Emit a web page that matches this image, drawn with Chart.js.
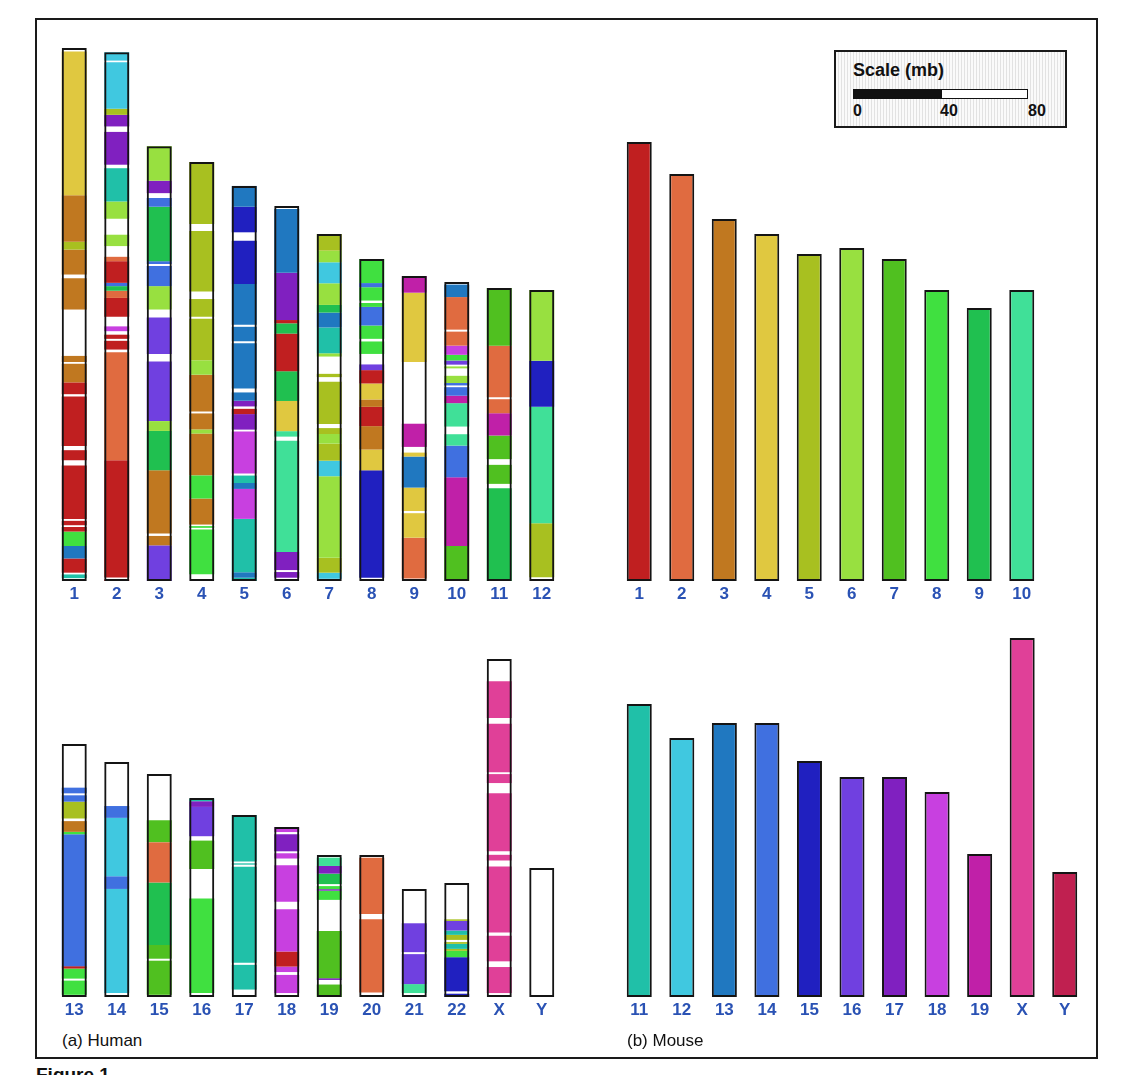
<!DOCTYPE html>
<html>
<head>
<meta charset="utf-8">
<script src="https://cdn.jsdelivr.net/npm/chart.js@4.4.1/dist/chart.umd.min.js"></script>
<style>
  html, body { margin: 0; padding: 0; background: #fff; }
  body { width: 1134px; height: 1075px; overflow: hidden; position: relative; font-family: "Liberation Sans", Arial, sans-serif; }
  .frame { position: absolute; left: 35px; top: 18px; width: 1063px; height: 1041px; border: 2px solid #1a1a1a; box-sizing: border-box; }
  .panel { position: absolute; }
  .caption { position: absolute; font-size: 17px; color: #111; }
  .scalebox { position: absolute; left: 834px; top: 50px; width: 233px; height: 78px; border: 2px solid #1a1a1a; box-sizing: border-box;
    background: repeating-linear-gradient(90deg, #fafafa 0px, #fafafa 2px, #e2e2e2 2px, #e2e2e2 3px); }
  .scaletitle { position: absolute; left: 853px; top: 60px; font-size: 18px; font-weight: bold; color: #111; }
  .scalebar { position: absolute; left: 853px; top: 89px; width: 175px; height: 10px; border: 1.5px solid #111; box-sizing: border-box; background: #fff; }
  .scalebar div { position: absolute; left: 0; top: 0; width: 88px; height: 100%; background: #111; }
  .scalelab { position: absolute; top: 102px; font-size: 16px; font-weight: bold; color: #111; }
  .fig { position: absolute; left: 36px; top: 1064px; font-size: 19px; font-weight: bold; color: #111; }
</style>
</head>
<body>
<div class="frame"></div>

<div class="panel" style="left:53px;top:40px;width:510px;height:571px"><canvas id="humanTop"></canvas></div>
<div class="panel" style="left:618px;top:40px;width:425px;height:571px"><canvas id="mouseTop"></canvas></div>
<div class="panel" style="left:53px;top:610px;width:510px;height:417px"><canvas id="humanBottom"></canvas></div>
<div class="panel" style="left:618px;top:610px;width:468px;height:417px"><canvas id="mouseBottom"></canvas></div>

<div class="scalebox"></div>
<div class="scaletitle">Scale (mb)</div>
<div class="scalebar"><div></div></div>
<div class="scalelab" style="left:853px">0</div>
<div class="scalelab" style="left:940px">40</div>
<div class="scalelab" style="left:1028px">80</div>

<div class="caption" style="left:62px;top:1031px">(a) Human</div>
<div class="caption" style="left:627px;top:1031px">(b) Mouse</div>
<div class="fig">Figure 1.</div>

<script>
// scale: 80 mb = 175 px
const PX_PER_MB = 175 / 80

const mouseColors = {
    1: '#c01f20', 2: '#e06b40', 3: '#c07820', 4: '#e0c840', 5: '#a8c020',
    6: '#98e040', 7: '#50c020', 8: '#40e040', 9: '#20c050', 10: '#40e098',
    11: '#20c0a8', 12: '#40c8e0', 13: '#2078c0', 14: '#4070e0', 15: '#2020c0',
    16: '#7040e0', 17: '#8020c0', 18: '#c840e0', 19: '#c020a8', X: '#e04098', Y: '#c02050'
}

// human chromosomes (mb)
const humanLabelsTop = ['1', '2', '3', '4', '5', '6', '7', '8', '9', '10', '11', '12']
const humanLengthsTop = [243.7, 241.7, 198.8, 191.5, 180.6, 171.4, 158.6, 147.2, 139.4, 136.7, 133.9, 133.0]
const humanLabelsBottom = ['13', '14', '15', '16', '17', '18', '19', '20', '21', '22', 'X', 'Y']
const humanLengthsBottom = [115.7, 107.4, 101.9, 91.0, 83.2, 77.7, 64.9, 64.9, 49.4, 52.1, 154.5, 59.0]

// mouse chromosomes (mb)
const mouseLabelsTop = ['1', '2', '3', '4', '5', '6', '7', '8', '9', '10']
const mouseLengthsTop = [200.7, 186.1, 165.5, 158.6, 149.5, 152.2, 147.2, 133.0, 124.8, 133.0]
const mouseLabelsBottom = ['11', '12', '13', '14', '15', '16', '17', '18', '19', 'X', 'Y']
const mouseLengthsBottom = [134.0, 118.4, 125.3, 125.3, 107.9, 100.6, 100.6, 93.7, 65.4, 164.1, 57.1]

// conserved segments on each human chromosome: [mouse chr, start mb, end mb], from the top
const segH1 = [[4, 1.6, 67.4], [3, 67.4, 88.6], [5, 88.6, 92.2], [3, 92.2, 103.6], [3, 105.3, 119.6], [3, 140.8, 143.6],
    [3, 144.4, 152.9], [1, 152.9, 158.3], [1, 159.3, 182.0], [1, 183.9, 188.5], [1, 190.9, 215.4], [1, 216.2, 218.2],
    [1, 219.0, 221.1], [8, 221.1, 227.7], [13, 227.7, 233.4], [1, 233.4, 239.9], [11, 240.7, 242.4]]
const segH2 = [[12, 0, 3.8], [12, 4.6, 25.8], [5, 25.8, 28.6], [17, 28.6, 33.9], [17, 36.4, 51.4], [11, 53.0, 68.2],
    [6, 68.2, 76.1], [6, 83.4, 88.6], [2, 93.5, 95.5], [1, 95.5, 105.4], [14, 105.4, 106.9], [9, 106.9, 109.0],
    [2, 109.0, 112.3], [1, 112.3, 120.9], [18, 125.3, 127.5], [1, 129.1, 131.0], [1, 131.9, 135.9], [2, 137.1, 186.5],
    [1, 186.5, 240.1], [1, 240.9, 241.7]]
const segH3 = [[6, 0, 15.8], [17, 15.8, 21.5], [14, 23.7, 27.7], [9, 27.7, 52.6], [14, 52.6, 53.9], [14, 54.8, 64.0],
    [6, 64.0, 74.7], [16, 78.3, 95.0], [16, 98.4, 125.7], [6, 125.7, 130.2], [9, 130.2, 148.2], [3, 148.2, 177.1],
    [3, 178.2, 182.5], [16, 182.5, 198.8]]
const segH4 = [[5, 0, 28.3], [5, 31.5, 59.2], [5, 62.6, 70.7], [5, 71.6, 90.6], [6, 90.6, 97.2], [3, 97.2, 114.0],
    [3, 114.9, 122.2], [6, 122.2, 124.1], [3, 124.1, 143.2], [8, 143.2, 153.8], [3, 153.8, 165.7], [8, 166.4, 167.2],
    [8, 168.0, 188.4]]
const segH5 = [[13, 0, 9.5], [15, 9.5, 21.2], [15, 25.1, 44.8], [13, 44.8, 63.5], [13, 64.4, 71.0], [13, 71.9, 92.6],
    [13, 94.4, 98.2], [17, 98.2, 100.8], [1, 101.9, 104.3], [17, 104.3, 111.4], [18, 112.3, 131.5], [11, 132.4, 135.8],
    [13, 135.8, 138.5], [18, 138.5, 152.2], [11, 152.2, 176.6], [13, 176.6, 179.1], [11, 179.1, 180.6]]
const segH6 = [[13, 1.3, 30.5], [17, 30.5, 52.1], [1, 52.1, 53.6], [9, 53.6, 58.3], [1, 58.3, 75.5], [9, 75.5, 89.1],
    [4, 89.1, 102.9], [10, 102.9, 105.4], [10, 107.3, 158.1], [17, 158.1, 166.4], [17, 167.3, 169.9]]
const segH7 = [[5, 0, 7.6], [6, 7.6, 12.9], [12, 12.9, 22.5], [6, 22.5, 32.4], [9, 32.4, 35.9], [13, 35.9, 42.7],
    [11, 42.7, 54.5], [6, 54.5, 56.0], [5, 63.9, 65.4], [5, 67.5, 86.8], [5, 88.7, 91.4], [6, 91.4, 95.8],
    [5, 95.8, 103.6], [12, 103.6, 110.7], [6, 110.7, 148.0], [5, 148.0, 154.8], [12, 154.8, 157.6]]
const segH8 = [[8, 0, 11.0], [14, 11.0, 12.9], [8, 12.9, 19.0], [8, 20.1, 21.9], [14, 21.9, 30.4], [8, 30.4, 36.5],
    [8, 37.7, 43.4], [16, 48.2, 50.8], [1, 50.8, 56.9], [4, 56.9, 64.2], [3, 64.2, 67.6], [1, 67.6, 76.4],
    [3, 76.4, 87.1], [4, 87.1, 96.6], [15, 96.6, 145.7]]
const segH9 = [[19, 0, 7.6], [4, 7.6, 39.3], [19, 67.5, 78.1], [4, 80.7, 82.5], [13, 82.5, 96.7], [4, 96.7, 107.4],
    [4, 108.4, 119.6], [2, 119.6, 138.3]]
const segH10 = [[13, 1.2, 6.9], [2, 6.9, 21.8], [2, 22.7, 29.1], [18, 29.1, 33.3], [8, 33.3, 35.9], [16, 35.9, 37.8],
    [6, 38.6, 39.5], [6, 42.9, 46.2], [14, 46.2, 47.3], [14, 48.1, 52.0], [19, 52.0, 55.4], [10, 55.4, 66.1],
    [10, 69.6, 74.8], [14, 74.8, 89.3], [19, 89.3, 120.7], [7, 120.7, 136.7]]
const segH11 = [[7, 0, 26.4], [2, 26.4, 49.9], [2, 50.8, 57.2], [19, 57.2, 67.4], [7, 67.4, 78.2], [7, 80.8, 89.5],
    [9, 91.5, 133.9]]
const segH12 = [[6, 0, 32.3], [15, 32.3, 53.3], [10, 53.3, 106.6], [5, 106.6, 131.3]]
const segH13 = [[14, 20.0, 22.6], [14, 23.5, 26.4], [5, 26.4, 34.1], [3, 35.3, 40.2], [8, 40.2, 41.3], [14, 41.3, 101.6],
    [1, 101.6, 102.7], [8, 102.7, 107.3], [8, 108.2, 114.7]]
const segH14 = [[14, 20.1, 25.5], [12, 25.5, 52.2], [14, 52.2, 58.0], [12, 58.0, 105.6]]
const segH15 = [[7, 21.1, 31.1], [2, 31.1, 49.6], [9, 49.6, 78.1], [7, 78.1, 84.4], [7, 85.3, 100.9]]
const segH16 = [[11, 0.3, 1.5], [17, 1.5, 4.1], [16, 4.1, 17.5], [7, 19.5, 32.5], [8, 46.0, 89.2]]
const segH17 = [[11, 0, 21.2], [11, 22.1, 22.7], [11, 23.6, 67.5], [11, 68.5, 79.8]]
const segH18 = [[18, 0, 2.3], [17, 3.3, 11.1], [18, 12.0, 14.4], [18, 17.5, 34.2], [18, 37.6, 56.9], [1, 56.9, 63.8],
    [18, 63.8, 66.3], [18, 67.6, 75.9]]
const segH19 = [[10, 1.2, 5.0], [17, 5.0, 8.5], [9, 8.5, 13.3], [8, 14.2, 15.6], [17, 15.6, 16.3], [8, 16.3, 20.5],
    [7, 34.7, 56.3], [17, 56.3, 57.1], [7, 59.2, 64.9]]
const segH20 = [[2, 1.2, 26.9], [2, 29.3, 62.8]]
const segH21 = [[16, 15.7, 28.9], [16, 29.8, 43.5], [10, 43.5, 47.6]]
const segH22 = [[5, 16.6, 17.3], [16, 17.3, 21.7], [11, 21.7, 23.7], [5, 23.7, 26.0], [5, 27.0, 27.8], [11, 27.8, 30.1],
    [5, 30.1, 31.0], [8, 31.0, 33.9], [15, 33.9, 49.5], [15, 50.6, 52.1]]
const segHX = [['X', 10.2, 27.0], ['X', 29.6, 51.7], ['X', 52.6, 56.7], ['X', 61.3, 87.9], ['X', 89.5, 92.1],
    ['X', 94.8, 125.0], ['X', 126.5, 138.2], ['X', 140.8, 152.7]]
const segHY = []

const segsTop = [segH1, segH2, segH3, segH4, segH5, segH6, segH7, segH8, segH9, segH10, segH11, segH12]
const segsBottom = [segH13, segH14, segH15, segH16, segH17, segH18, segH19, segH20, segH21, segH22, segHX, segHY]

const CLEAR = 'rgba(0,0,0,0)'

// chromosomes are drawn bottom aligned, so a segment measured from the top
// becomes a floating bar measured from the baseline
function humanDatasets(lengths, segLists) {
    var sets = [{
        data: lengths.map(L => [0, L]),
        backgroundColor: CLEAR,
        borderColor: '#141414',
        borderWidth: 2,
        borderSkipped: false,
        order: 0
    }]
    var maxSegs = Math.max.apply(null, segLists.map(s => s.length))
    for (var k = 0; k < maxSegs; k++) {
        sets.push({
            data: segLists.map((s, i) => s[k] ? [lengths[i] - s[k][2], lengths[i] - s[k][1]] : null),
            backgroundColor: segLists.map(s => s[k] ? mouseColors[s[k][0]] : CLEAR),
            borderWidth: 0,
            order: 1
        })
    }
    return sets
}

function mouseDatasets(labels, lengths) {
    return [{
        data: lengths,
        backgroundColor: labels.map(l => mouseColors[l]),
        borderColor: '#141414',
        borderWidth: 2,
        borderSkipped: false
    }]
}

function makePanel(id, labels, datasets, areaHeight) {
    return new Chart(document.getElementById(id), {
        type: 'bar',
        data: { labels: labels, datasets: datasets },
        options: {
            responsive: true,
            maintainAspectRatio: false,
            animation: false,
            layout: { padding: 0 },
            datasets: {
                bar: { grouped: false, barPercentage: 25 / 42.5, categoryPercentage: 1 }
            },
            plugins: { legend: { display: false }, tooltip: { enabled: false } },
            scales: {
                x: {
                    grid: { display: false, drawTicks: false },
                    border: { display: false },
                    ticks: {
                        color: '#2a52b4',
                        font: { family: 'Liberation Sans', size: 17, weight: 'bold' },
                        padding: 3,
                        maxRotation: 0,
                        autoSkip: false
                    },
                    afterFit: function (scale) { scale.height = 30 }
                },
                y: { display: false, min: 0, max: areaHeight / PX_PER_MB }
            }
        }
    })
}

makePanel('humanTop', humanLabelsTop, humanDatasets(humanLengthsTop, segsTop), 541)
makePanel('humanBottom', humanLabelsBottom, humanDatasets(humanLengthsBottom, segsBottom), 387)
makePanel('mouseTop', mouseLabelsTop, mouseDatasets(mouseLabelsTop, mouseLengthsTop), 541)
makePanel('mouseBottom', mouseLabelsBottom, mouseDatasets(mouseLabelsBottom, mouseLengthsBottom), 387)
</script>
</body>
</html>
